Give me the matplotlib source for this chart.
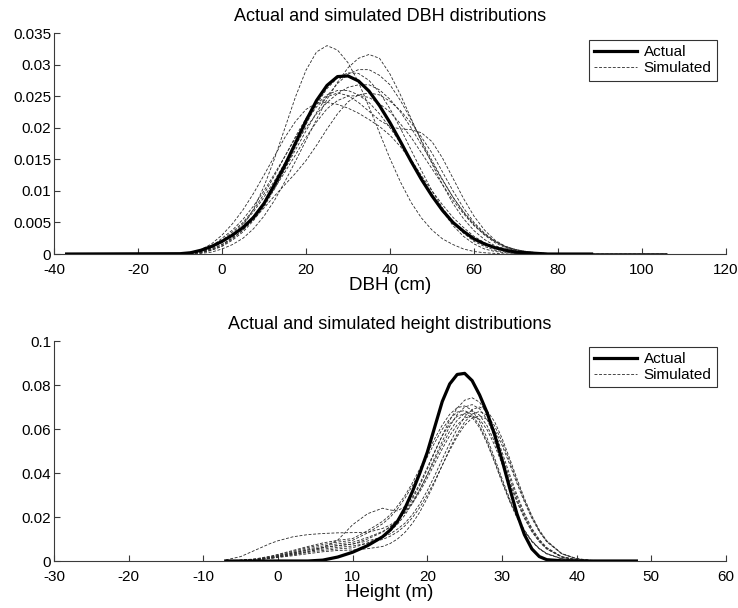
import matplotlib
matplotlib.use("Agg")
import matplotlib.pyplot as plt

plt.rcParams['font.family'] = ['Liberation Sans', 'DejaVu Sans']

# ---------------- DBH panel data ----------------
X_DBH = [-37, -10, -7.5, -5, -2.5, 0, 2.5, 5, 7.5, 10, 12.5, 15, 17.5, 20, 22.5, 25, 27.5, 30, 32.5, 35,
         37.5, 40, 42.5, 45, 47.5, 50, 52.5, 55, 57.5, 60, 62.5, 65, 67.5, 70, 72.5, 75, 77.5, 80, 88, 106]
DBH_ACTUAL = [0, 0.00005, 0.0002, 0.0006, 0.0012, 0.0020, 0.0030, 0.0042, 0.0058, 0.0080, 0.0110, 0.0141,
              0.0176, 0.0211, 0.0243, 0.0267, 0.0281, 0.0282, 0.0274, 0.0258, 0.0235, 0.0208, 0.0178, 0.0147,
              0.0118, 0.0092, 0.0069, 0.0050, 0.0036, 0.0024, 0.0016, 0.0010, 0.0006, 0.0003, 0.0002, 0.0001,
              0, 0, 0]
DBH_SIM1 = [0, 0, 0.0001, 0.0003, 0.0007, 0.0015, 0.0026, 0.0045, 0.0071, 0.0107, 0.0151, 0.0200, 0.0249,
            0.0291, 0.0320, 0.0330, 0.0323, 0.0303, 0.0272, 0.0233, 0.0192, 0.0151, 0.0114, 0.0082, 0.0057,
            0.0038, 0.0024, 0.0015, 0.0008, 0.0004, 0.0002, 0.0001, 0, 0, 0, 0, 0, 0, 0, 0]
DBH_SIM2 = [0, 0, 0, 0.0001, 0.0003, 0.0008, 0.0015, 0.0025, 0.0040, 0.0060, 0.0085, 0.0115, 0.0147,
            0.0180, 0.0213, 0.0245, 0.0272, 0.0295, 0.0310, 0.0316, 0.0310, 0.0285, 0.0252, 0.0215, 0.0178,
            0.0143, 0.0110, 0.0080, 0.0056, 0.0037, 0.0023, 0.0013, 0.0008, 0.0004, 0.0002, 0.0001, 0, 0, 0, 0]
DBH_SIM3 = [0, 0, 0.0001, 0.0002, 0.0006, 0.0013, 0.0024, 0.0038, 0.0057, 0.0080, 0.0106, 0.0135, 0.0165,
            0.0195, 0.0224, 0.0250, 0.0270, 0.0285, 0.0292, 0.0292, 0.0283, 0.0268, 0.0243, 0.0213, 0.0180,
            0.0148, 0.0118, 0.0090, 0.0066, 0.0046, 0.0030, 0.0018, 0.0010, 0.0005, 0.0002, 0.0001, 0, 0, 0, 0]
DBH_SIM4 = [0, 0, 0.0001, 0.0004, 0.0012, 0.0025, 0.0038, 0.0055, 0.0076, 0.0100, 0.0127, 0.0155, 0.0184,
            0.0210, 0.0233, 0.0249, 0.0255, 0.0251, 0.0240, 0.0226, 0.0212, 0.0202, 0.0198, 0.0197, 0.0192,
            0.0178, 0.0152, 0.0120, 0.0088, 0.0060, 0.0038, 0.0022, 0.0012, 0.0006, 0.0003, 0.0001, 0, 0, 0, 0]
DBH_SIM5 = [0, 0.0001, 0.0003, 0.0007, 0.0016, 0.0030, 0.0048, 0.0070, 0.0096, 0.0125, 0.0155, 0.0185,
            0.0210, 0.0229, 0.0239, 0.0240, 0.0237, 0.0231, 0.0223, 0.0213, 0.0202, 0.0188, 0.0170, 0.0148,
            0.0122, 0.0095, 0.0068, 0.0045, 0.0028, 0.0016, 0.0008, 0.0004, 0.0002, 0.0001, 0, 0, 0, 0, 0, 0]
DBH_SIM6 = [0, 0, 0.0001, 0.0003, 0.0008, 0.0015, 0.0025, 0.0038, 0.0055, 0.0073, 0.0092, 0.0110, 0.0128,
            0.0148, 0.0172, 0.0198, 0.0222, 0.0241, 0.0252, 0.0255, 0.0252, 0.0242, 0.0227, 0.0208, 0.0185,
            0.0160, 0.0130, 0.0100, 0.0073, 0.0050, 0.0033, 0.0020, 0.0011, 0.0006, 0.0003, 0.0001, 0, 0, 0, 0]
DBH_SIM7 = [0, 0, 0.0002, 0.0005, 0.0012, 0.0022, 0.0035, 0.0050, 0.0070, 0.0095, 0.0124, 0.0155, 0.0186,
            0.0215, 0.0237, 0.0252, 0.0259, 0.0259, 0.0252, 0.0240, 0.0222, 0.0200, 0.0176, 0.0150, 0.0124,
            0.0100, 0.0078, 0.0058, 0.0042, 0.0028, 0.0018, 0.0011, 0.0006, 0.0003, 0.0001, 0, 0, 0, 0, 0]
DBH_SIM8 = [0, 0, 0, 0.0002, 0.0006, 0.0012, 0.0022, 0.0035, 0.0053, 0.0075, 0.0103, 0.0135, 0.0170,
            0.0205, 0.0237, 0.0262, 0.0279, 0.0287, 0.0286, 0.0275, 0.0256, 0.0230, 0.0199, 0.0165, 0.0132,
            0.0100, 0.0073, 0.0050, 0.0033, 0.0020, 0.0012, 0.0006, 0.0003, 0.0001, 0, 0, 0, 0, 0, 0]
DBH_SIM9 = [0, 0, 0.0001, 0.0003, 0.0009, 0.0018, 0.0029, 0.0042, 0.0060, 0.0080, 0.0104, 0.0130, 0.0157,
            0.0185, 0.0209, 0.0230, 0.0243, 0.0250, 0.0251, 0.0248, 0.0238, 0.0225, 0.0206, 0.0185, 0.0160,
            0.0135, 0.0110, 0.0085, 0.0064, 0.0045, 0.0031, 0.0020, 0.0012, 0.0007, 0.0004, 0.0002, 0.0001,
            0, 0, 0]
DBH_SIM10 = [0, 0, 0.0001, 0.0004, 0.0010, 0.0020, 0.0032, 0.0048, 0.0067, 0.0090, 0.0116, 0.0145, 0.0173,
             0.0200, 0.0222, 0.0240, 0.0254, 0.0264, 0.0268, 0.0268, 0.0260, 0.0245, 0.0225, 0.0200, 0.0173,
             0.0145, 0.0117, 0.0090, 0.0067, 0.0048, 0.0032, 0.0020, 0.0012, 0.0007, 0.0004, 0.0002, 0.0001,
             0, 0, 0]
DBH_SIMS = [DBH_SIM1, DBH_SIM2, DBH_SIM3, DBH_SIM4, DBH_SIM5, DBH_SIM6, DBH_SIM7, DBH_SIM8, DBH_SIM9, DBH_SIM10]

DBH_XTICKS = [-40, -20, 0, 20, 40, 60, 80, 100, 120]
DBH_YTICKS = [0, 0.005, 0.01, 0.015, 0.02, 0.025, 0.03, 0.035]
DBH_YLABELS = ['0', '0.005', '0.01', '0.015', '0.02', '0.025', '0.03', '0.035']

# ---------------- Height panel data ----------------
X_H = [-7, -5, -3, -1, 0, 2, 4, 6, 8, 10, 12, 14, 15, 16, 17, 18, 19, 20, 21, 22, 23, 24, 25, 26, 27, 28,
       29, 30, 31, 32, 33, 34, 35, 36, 38, 40, 42, 48]
H_ACTUAL = [0, 0, 0, 0, 0, 0, 0, 0.0004, 0.0018, 0.0040, 0.0070, 0.0110, 0.0140, 0.0180, 0.0240, 0.0315,
            0.0400, 0.0495, 0.0610, 0.0725, 0.0805, 0.0848, 0.0853, 0.0820, 0.0755, 0.0675, 0.0575, 0.0460,
            0.0335, 0.0215, 0.0120, 0.0055, 0.0020, 0.0006, 0.0001, 0, 0, 0]
H_SIM1 = [0, 0.0003, 0.0007, 0.0016, 0.0023, 0.0036, 0.0050, 0.0061, 0.0070, 0.0077, 0.0100, 0.0131,
          0.0154, 0.0187, 0.0228, 0.0282, 0.0345, 0.0418, 0.0495, 0.0571, 0.0640, 0.0695, 0.0731, 0.0742,
          0.0722, 0.0670, 0.0591, 0.0496, 0.0396, 0.0301, 0.0218, 0.0149, 0.0098, 0.0061, 0.0020, 0.0005,
          0.0001, 0]
H_SIM2 = [0, 0.0002, 0.0005, 0.0012, 0.0018, 0.0030, 0.0042, 0.0060, 0.0095, 0.0165, 0.0215, 0.0240,
          0.0232, 0.0228, 0.0248, 0.0290, 0.0353, 0.0425, 0.0500, 0.0569, 0.0623, 0.0658, 0.0670, 0.0653,
          0.0606, 0.0535, 0.0449, 0.0358, 0.0273, 0.0197, 0.0135, 0.0088, 0.0055, 0.0032, 0.0010, 0.0002,
          0, 0]
H_SIM3 = [0.0005, 0.0020, 0.0050, 0.0080, 0.0092, 0.0110, 0.0120, 0.0125, 0.0128, 0.0129, 0.0130, 0.0148,
          0.0163, 0.0187, 0.0219, 0.0262, 0.0315, 0.0377, 0.0444, 0.0510, 0.0570, 0.0619, 0.0650, 0.0660,
          0.0644, 0.0597, 0.0527, 0.0442, 0.0353, 0.0269, 0.0194, 0.0133, 0.0087, 0.0054, 0.0018, 0.0005,
          0.0001, 0]
H_SIM4 = [0, 0.0003, 0.0009, 0.0020, 0.0028, 0.0044, 0.0061, 0.0075, 0.0086, 0.0094, 0.0128, 0.0169,
          0.0198, 0.0237, 0.0285, 0.0342, 0.0406, 0.0473, 0.0539, 0.0599, 0.0646, 0.0677, 0.0684, 0.0665,
          0.0615, 0.0543, 0.0456, 0.0364, 0.0277, 0.0200, 0.0137, 0.0090, 0.0056, 0.0033, 0.0010, 0.0002,
          0, 0]
H_SIM5 = [0, 0.0002, 0.0006, 0.0014, 0.0020, 0.0032, 0.0044, 0.0054, 0.0062, 0.0068, 0.0081, 0.0098,
          0.0112, 0.0132, 0.0160, 0.0197, 0.0244, 0.0301, 0.0365, 0.0435, 0.0503, 0.0566, 0.0617, 0.0650,
          0.0660, 0.0644, 0.0597, 0.0527, 0.0442, 0.0353, 0.0269, 0.0194, 0.0133, 0.0087, 0.0033, 0.0010,
          0.0002, 0]
H_SIM6 = [0, 0.0002, 0.0006, 0.0012, 0.0016, 0.0024, 0.0033, 0.0042, 0.0048, 0.0050, 0.0056, 0.0066,
          0.0079, 0.0100, 0.0130, 0.0171, 0.0223, 0.0287, 0.0358, 0.0435, 0.0510, 0.0577, 0.0632, 0.0668,
          0.0680, 0.0663, 0.0615, 0.0543, 0.0456, 0.0364, 0.0277, 0.0200, 0.0137, 0.0090, 0.0033, 0.0010,
          0.0002, 0]
H_SIM7 = [0, 0.0004, 0.0010, 0.0022, 0.0030, 0.0048, 0.0066, 0.0082, 0.0094, 0.0102, 0.0138, 0.0180,
          0.0209, 0.0250, 0.0297, 0.0355, 0.0420, 0.0489, 0.0557, 0.0618, 0.0667, 0.0697, 0.0705, 0.0685,
          0.0634, 0.0559, 0.0469, 0.0375, 0.0285, 0.0206, 0.0141, 0.0092, 0.0057, 0.0034, 0.0011, 0.0003,
          0.0001, 0]
H_SIM8 = [0, 0.0003, 0.0008, 0.0018, 0.0025, 0.0040, 0.0055, 0.0068, 0.0078, 0.0085, 0.0107, 0.0134,
          0.0155, 0.0184, 0.0222, 0.0269, 0.0326, 0.0391, 0.0460, 0.0528, 0.0590, 0.0640, 0.0672, 0.0682,
          0.0663, 0.0615, 0.0543, 0.0456, 0.0364, 0.0277, 0.0200, 0.0137, 0.0090, 0.0056, 0.0018, 0.0005,
          0.0001, 0]
H_SIM9 = [0, 0.0002, 0.0006, 0.0013, 0.0018, 0.0028, 0.0039, 0.0048, 0.0055, 0.0060, 0.0082, 0.0112,
          0.0135, 0.0167, 0.0209, 0.0262, 0.0324, 0.0395, 0.0471, 0.0544, 0.0612, 0.0666, 0.0700, 0.0711,
          0.0692, 0.0643, 0.0567, 0.0476, 0.0380, 0.0289, 0.0209, 0.0143, 0.0094, 0.0058, 0.0019, 0.0005,
          0.0001, 0]
H_SIM10 = [0, 0.0003, 0.0007, 0.0016, 0.0023, 0.0036, 0.0050, 0.0061, 0.0070, 0.0077, 0.0091, 0.0109,
           0.0123, 0.0145, 0.0172, 0.0211, 0.0260, 0.0320, 0.0389, 0.0463, 0.0535, 0.0601, 0.0655, 0.0689,
           0.0700, 0.0683, 0.0634, 0.0559, 0.0469, 0.0375, 0.0285, 0.0206, 0.0141, 0.0092, 0.0034, 0.0011,
           0.0003, 0]
H_SIMS = [H_SIM1, H_SIM2, H_SIM3, H_SIM4, H_SIM5, H_SIM6, H_SIM7, H_SIM8, H_SIM9, H_SIM10]

H_XTICKS = [-30, -20, -10, 0, 10, 20, 30, 40, 50, 60]
H_YTICKS = [0, 0.02, 0.04, 0.06, 0.08, 0.1]
H_YLABELS = ['0', '0.02', '0.04', '0.06', '0.08', '0.1']

fig = plt.figure(figsize=(7.38, 6.08), dpi=100)
ax1 = fig.add_axes([0.0732, 0.5822, 0.9105, 0.3635])
ax2 = fig.add_axes([0.0732, 0.0773, 0.9105, 0.3618])

def style(ax, xticks, yticks, ylabels, xlim, ylim):
    ax.set_xlim(*xlim)
    ax.set_ylim(*ylim)
    ax.set_xticks(xticks)
    ax.set_xticklabels([str(t) for t in xticks])
    ax.set_yticks(yticks)
    ax.set_yticklabels(ylabels)
    for s in ['top', 'right']:
        ax.spines[s].set_visible(False)
    for s in ['left', 'bottom']:
        ax.spines[s].set_color('#3a3a3a')
        ax.spines[s].set_linewidth(0.8)
    ax.tick_params(direction='in', length=4, width=0.8, colors='#3a3a3a',
                   labelcolor='black', labelsize=11)
    ax.tick_params(axis='x', pad=6.5)
    ax.tick_params(axis='y', pad=2)

def draw(ax, x, actual, sims, anchor):
    for i, s in enumerate(sims):
        ax.plot(x, s, color='#2a2a2a', lw=0.6, ls=(0, (3.5, 2.0)),
                label='Simulated' if i == 0 else None)
    ax.plot(x[:len(actual)], actual, color='black', lw=2.3, label='Actual')
    h, l = ax.get_legend_handles_labels()
    leg = ax.legend([h[-1], h[0]], [l[-1], l[0]], loc='upper right',
                    bbox_to_anchor=anchor, fontsize=11, frameon=True,
                    fancybox=False, handlelength=2.8, handletextpad=0.45,
                    borderpad=0.35, labelspacing=0.12, borderaxespad=0.0)
    leg.get_frame().set_edgecolor('black')
    leg.get_frame().set_linewidth(0.8)

draw(ax1, X_DBH, DBH_ACTUAL, DBH_SIMS, (0.9866, 0.968))
style(ax1, DBH_XTICKS, DBH_YTICKS, DBH_YLABELS, (-40, 120), (0, 0.035))
ax1.set_title('Actual and simulated DBH distributions', fontsize=13, pad=9)
ax1.set_xlabel('DBH (cm)', fontsize=13.5, labelpad=0)

draw(ax2, X_H, H_ACTUAL, H_SIMS, (0.9866, 0.973))
style(ax2, H_XTICKS, H_YTICKS, H_YLABELS, (-30, 60), (0, 0.1))
ax2.set_title('Actual and simulated height distributions', fontsize=13, pad=9)
ax2.set_xlabel('Height (m)', fontsize=13.5, labelpad=0)

fig.savefig('out.png', dpi=100)
